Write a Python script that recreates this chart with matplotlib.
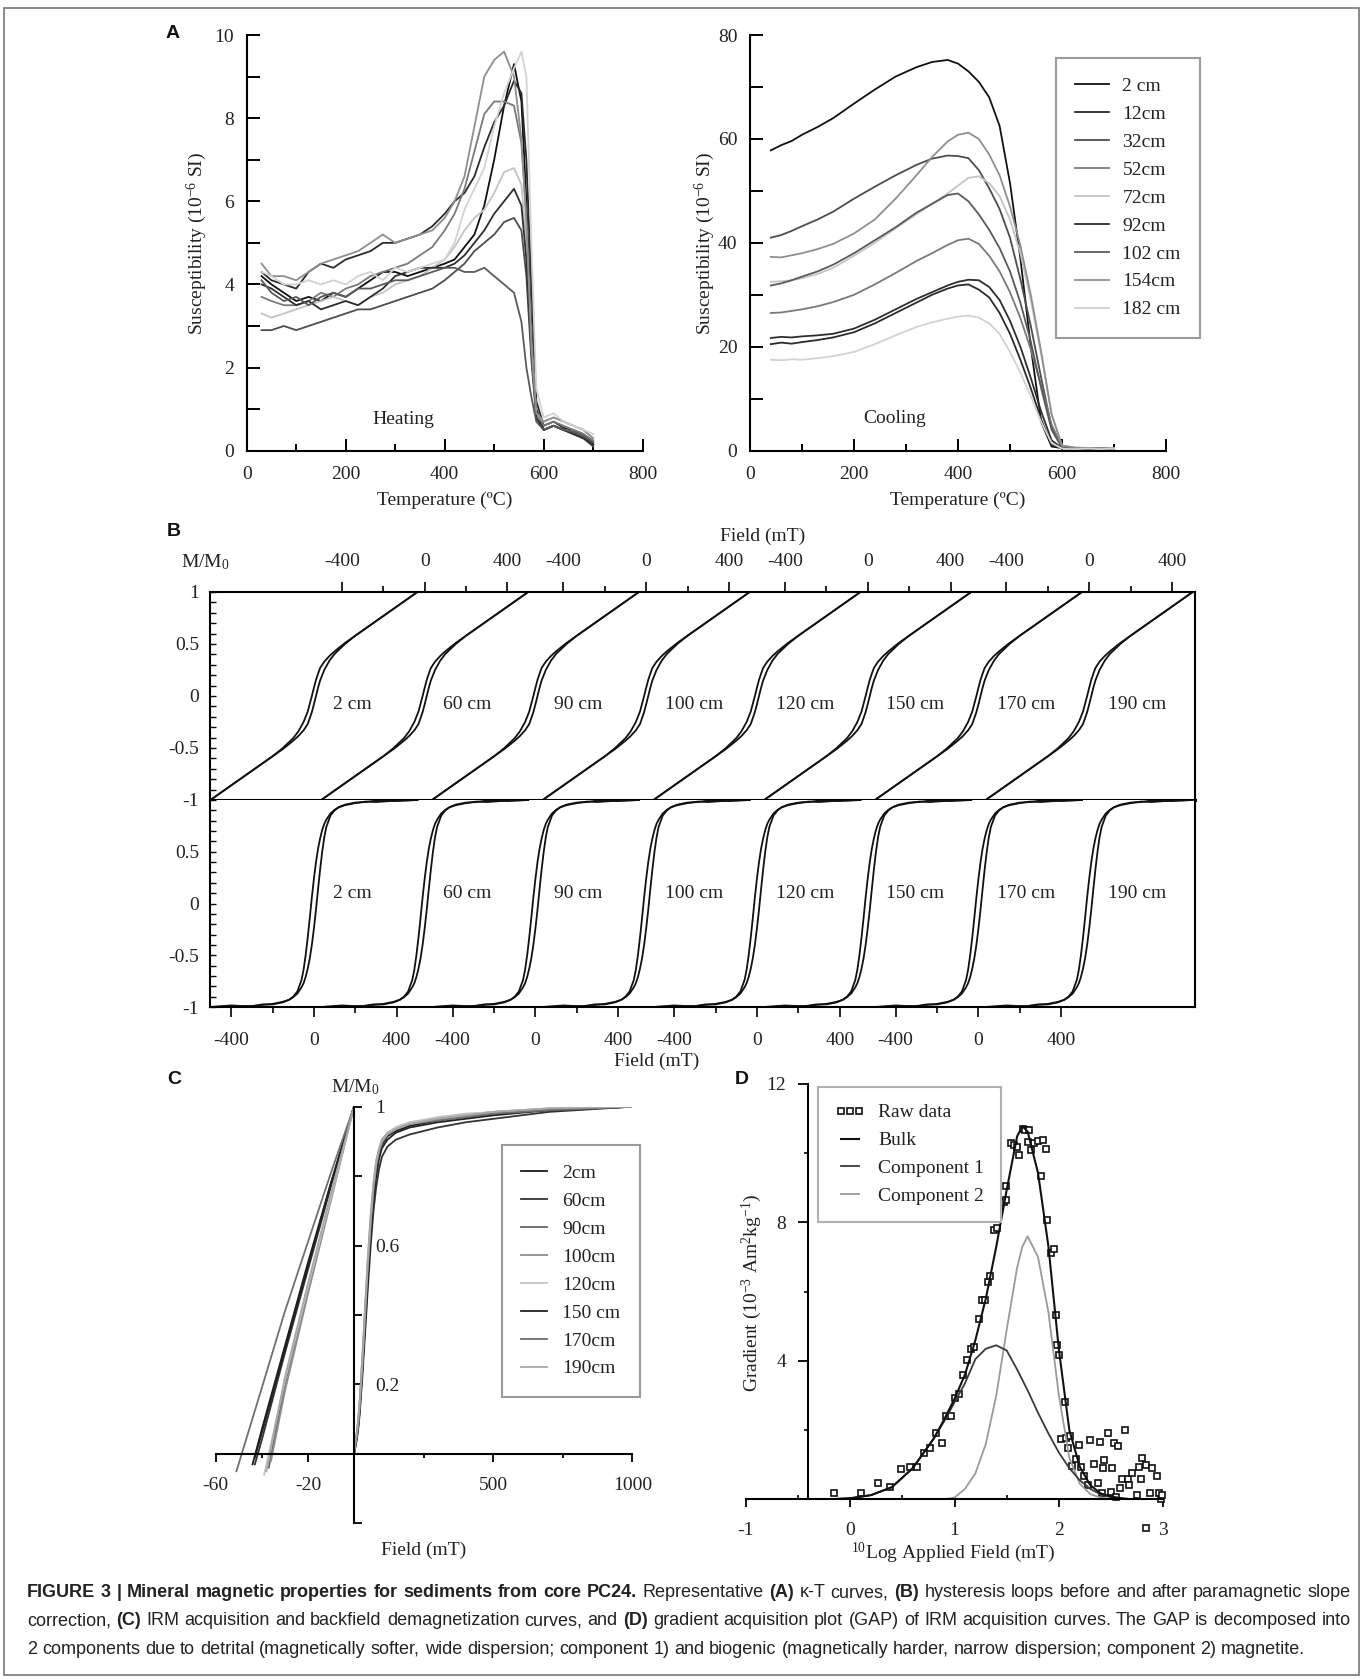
import numpy as np
import matplotlib
matplotlib.use("Agg")
import matplotlib.pyplot as plt
from matplotlib import font_manager
from matplotlib.patches import Rectangle
from matplotlib.ticker import FixedLocator, MultipleLocator, NullFormatter

W, H = 1363, 1679

# ---------------- (A) kappa-T data ----------------
kt_labels = ['2 cm', '12cm', '32cm', '52cm', '72cm', '92cm', '102 cm', '154cm', '182 cm']

heat_T = [30, 50, 75, 100, 125, 150, 175, 200, 225, 250, 275, 300, 325, 350, 375, 400,
          420, 440, 460, 480, 500, 520, 540, 555, 565, 575, 585, 600, 620, 640, 660, 680, 700]
heat_2cm = [4.2, 4.0, 3.8, 3.6, 3.7, 3.6, 3.8, 3.7, 3.9, 4.1, 4.3, 4.3, 4.2, 4.3, 4.4, 4.5,
            4.6, 4.9, 5.2, 5.9, 7.0, 8.3, 9.3, 8.4, 6.0, 3.0, 1.0, 0.5, 0.6, 0.5, 0.45, 0.35, 0.15]
heat_12cm = [4.3, 4.1, 4.0, 3.9, 4.3, 4.5, 4.4, 4.6, 4.7, 4.8, 5.0, 5.0, 5.1, 5.2, 5.4, 5.7,
             6.0, 6.2, 6.6, 7.3, 7.9, 8.3, 8.9, 8.6, 7.0, 4.0, 1.2, 0.6, 0.7, 0.55, 0.5, 0.4, 0.2]
heat_32cm = [2.9, 2.9, 3.0, 2.9, 3.0, 3.1, 3.2, 3.3, 3.4, 3.4, 3.5, 3.6, 3.7, 3.8, 3.9, 4.1,
             4.3, 4.5, 4.8, 5.0, 5.2, 5.5, 5.6, 5.3, 4.2, 2.2, 0.8, 0.5, 0.6, 0.5, 0.4, 0.3, 0.1]
heat_52cm = [3.7, 3.6, 3.5, 3.5, 3.6, 3.8, 3.7, 3.9, 4.0, 4.2, 4.3, 4.4, 4.5, 4.7, 4.9, 5.3,
             5.7, 6.3, 7.2, 8.1, 8.4, 8.4, 8.3, 7.4, 5.6, 2.8, 0.9, 0.6, 0.7, 0.6, 0.5, 0.4, 0.25]
heat_72cm = [3.3, 3.2, 3.3, 3.4, 3.5, 3.6, 3.7, 3.6, 3.5, 3.7, 3.8, 4.0, 4.1, 4.2, 4.4, 4.6,
             4.9, 5.3, 5.6, 5.8, 6.2, 6.7, 6.8, 6.4, 5.0, 2.5, 0.9, 0.7, 0.8, 0.7, 0.6, 0.5, 0.3]
heat_92cm = [4.0, 3.9, 3.7, 3.5, 3.6, 3.4, 3.5, 3.6, 3.5, 3.7, 3.9, 4.2, 4.3, 4.4, 4.4, 4.4,
             4.5, 4.7, 5.0, 5.3, 5.7, 6.0, 6.3, 5.9, 4.6, 2.4, 0.8, 0.5, 0.6, 0.5, 0.4, 0.3, 0.15]
heat_102cm = [4.1, 3.8, 3.6, 3.7, 3.5, 3.7, 3.8, 3.7, 3.9, 3.9, 4.0, 4.1, 4.1, 4.2, 4.3, 4.4,
              4.4, 4.3, 4.3, 4.4, 4.2, 4.0, 3.8, 3.1, 2.0, 1.3, 0.7, 0.5, 0.6, 0.5, 0.45, 0.35, 0.2]
heat_154cm = [4.5, 4.2, 4.2, 4.1, 4.3, 4.5, 4.6, 4.7, 4.8, 5.0, 5.2, 5.0, 5.1, 5.2, 5.3, 5.6,
              6.0, 6.6, 7.8, 9.0, 9.4, 9.6, 9.0, 7.5, 5.5, 2.5, 0.9, 0.7, 0.8, 0.7, 0.6, 0.5, 0.3]
heat_182cm = [4.3, 4.2, 4.0, 4.0, 4.1, 4.0, 4.1, 4.0, 4.2, 4.3, 4.1, 4.4, 4.3, 4.4, 4.5, 4.6,
              5.0, 5.8, 6.3, 6.8, 7.8, 8.6, 9.2, 9.6, 9.0, 5.0, 1.5, 0.8, 0.9, 0.7, 0.6, 0.5, 0.4]

cool_T = [40, 60, 80, 100, 130, 160, 200, 240, 280, 320, 350, 380, 400, 420, 440, 460, 480,
          500, 520, 540, 560, 580, 600, 625, 650, 675, 700]
cool_2cm = [57.8, 58.8, 59.6, 60.8, 62.3, 64.0, 66.8, 69.5, 72.0, 73.8, 74.8, 75.2, 74.5, 73.0,
            71.0, 68.0, 62.5, 51.5, 37.0, 20.0, 5.5, 0.8, 0.5, 0.4, 0.5, 0.3, 0.4]
cool_12cm = [20.5, 20.8, 20.6, 20.9, 21.3, 21.8, 22.8, 24.5, 26.5, 28.5, 30.0, 31.2, 31.8, 32.0,
             31.0, 29.5, 26.5, 22.5, 17.5, 12.0, 6.0, 1.2, 0.5, 0.4, 0.3, 0.4, 0.3]
cool_32cm = [41.0, 41.5, 42.3, 43.2, 44.5, 46.0, 48.5, 50.8, 53.0, 55.0, 56.2, 56.8, 56.7, 56.3,
             54.0, 50.5, 46.5, 41.0, 33.0, 24.0, 14.0, 4.5, 0.8, 0.5, 0.4, 0.5, 0.4]
cool_52cm = [26.5, 26.6, 26.9, 27.2, 27.8, 28.6, 30.0, 32.0, 34.2, 36.5, 38.0, 39.6, 40.5, 40.8,
             39.8, 37.5, 34.5, 30.5, 25.5, 19.5, 12.5, 5.0, 0.8, 0.5, 0.4, 0.5, 0.3]
cool_72cm = [32.5, 32.6, 32.8, 33.2, 34.0, 35.2, 37.5, 40.0, 42.8, 45.5, 47.5, 49.5, 51.0, 52.5,
             52.8, 51.5, 49.0, 44.5, 38.0, 29.0, 18.5, 7.0, 1.0, 0.6, 0.5, 0.4, 0.5]
cool_92cm = [21.7, 21.9, 21.8, 22.0, 22.2, 22.5, 23.5, 25.2, 27.2, 29.2, 30.5, 31.8, 32.5, 32.9,
             32.8, 31.5, 29.0, 25.0, 20.0, 14.0, 7.5, 2.0, 0.5, 0.4, 0.3, 0.4, 0.3]
cool_102cm = [31.8, 32.2, 32.8, 33.5, 34.5, 35.8, 38.0, 40.5, 43.0, 45.8, 47.5, 49.2, 49.5, 48.0,
              45.5, 42.5, 39.0, 34.5, 28.5, 21.0, 12.0, 4.0, 0.6, 0.5, 0.4, 0.4, 0.3]
cool_154cm = [37.3, 37.2, 37.6, 38.0, 38.8, 39.8, 41.8, 44.5, 48.5, 53.0, 56.5, 59.5, 60.8, 61.2,
              60.0, 57.0, 53.0, 47.0, 39.5, 30.0, 19.0, 7.0, 1.0, 0.6, 0.5, 0.5, 0.4]
cool_182cm = [17.5, 17.4, 17.6, 17.5, 17.8, 18.2, 19.0, 20.5, 22.2, 23.8, 24.7, 25.4, 25.8, 26.0,
              25.6, 24.5, 22.5, 19.0, 15.0, 10.5, 5.5, 1.5, 0.4, 0.3, 0.4, 0.3, 0.4]

heat_all = [heat_2cm, heat_12cm, heat_32cm, heat_52cm, heat_72cm, heat_92cm, heat_102cm, heat_154cm, heat_182cm]
cool_all = [cool_2cm, cool_12cm, cool_32cm, cool_52cm, cool_72cm, cool_92cm, cool_102cm, cool_154cm, cool_182cm]
kt_colors = ['#111111', '#2b2b2b', '#4d4d4d', '#7a7a7a', '#c4c4c4', '#2e2e2e', '#5a5a5a', '#8f8f8f', '#d2d2d2']

# ---------------- (B) hysteresis loops ----------------
loop_labels = ['2 cm', '60 cm', '90 cm', '100 cm', '120 cm', '150 cm', '170 cm', '190 cm']
# before slope correction
hys_field_raw = [-500, -450, -400, -350, -300, -250, -200, -150, -100, -75, -50, -30, -10, 0,
                 10, 20, 30, 50, 75, 100, 150, 200, 250, 300, 350, 400, 450, 500]
hys_up_raw = [-1.00, -0.93, -0.86, -0.79, -0.72, -0.65, -0.58, -0.51, -0.43, -0.385, -0.33, -0.27,
              -0.155, -0.08, 0.00, 0.08, 0.15, 0.25, 0.34, 0.405, 0.50, 0.58, 0.65, 0.72, 0.79,
              0.86, 0.93, 1.00]
hys_down_raw = [-1.00, -0.93, -0.86, -0.79, -0.72, -0.65, -0.58, -0.50, -0.405, -0.34, -0.25, -0.15,
                0.00, 0.08, 0.155, 0.215, 0.27, 0.33, 0.385, 0.43, 0.51, 0.58, 0.65, 0.72, 0.79,
                0.86, 0.93, 1.00]
# after slope correction
hys_field_cor = [-500, -400, -300, -250, -200, -150, -120, -100, -80, -60, -50, -40, -30, -20, -10,
                 0, 10, 20, 30, 40, 50, 60, 80, 100, 120, 150, 200, 250, 300, 400, 500]
hys_down_cor = [-1.00, -0.985, -0.995, -0.975, -0.975, -0.955, -0.93, -0.90, -0.85, -0.74, -0.64,
                -0.50, -0.33, -0.14, 0.06, 0.24, 0.40, 0.53, 0.63, 0.71, 0.77, 0.81, 0.87, 0.905,
                0.93, 0.95, 0.97, 0.985, 0.98, 0.995, 1.00]
hys_up_cor = [-1.00, -0.995, -0.99, -0.98, -0.97, -0.95, -0.93, -0.905, -0.87, -0.81, -0.77, -0.71,
              -0.63, -0.53, -0.40, -0.24, -0.06, 0.14, 0.33, 0.50, 0.64, 0.74, 0.85, 0.90, 0.93,
              0.955, 0.975, 0.98, 0.995, 0.99, 1.00]

# ---------------- (C) IRM acquisition / backfield ----------------
irm_labels = ['2cm', '60cm', '90cm', '100cm', '120cm', '150 cm', '170cm', '190cm']
irm_field = [0, 5, 10, 15, 20, 30, 40, 50, 60, 70, 80, 90, 100, 120, 150, 200, 300, 400, 500, 700, 1000]
irm_2cm = [0.00, 0.03, 0.05, 0.08, 0.13, 0.25, 0.39, 0.53, 0.65, 0.75, 0.82, 0.865, 0.89, 0.915, 0.93, 0.945, 0.96, 0.97, 0.98, 0.99, 1.0]
irm_60cm = [0.00, 0.02, 0.04, 0.07, 0.11, 0.22, 0.35, 0.48, 0.60, 0.70, 0.77, 0.82, 0.855, 0.885, 0.905, 0.92, 0.94, 0.955, 0.965, 0.985, 1.0]
irm_90cm = [0.00, 0.03, 0.06, 0.09, 0.14, 0.27, 0.41, 0.55, 0.67, 0.77, 0.84, 0.875, 0.90, 0.92, 0.935, 0.95, 0.965, 0.975, 0.985, 0.99, 1.0]
irm_100cm = [0.00, 0.03, 0.06, 0.10, 0.15, 0.28, 0.43, 0.57, 0.69, 0.78, 0.845, 0.88, 0.905, 0.925, 0.94, 0.955, 0.965, 0.975, 0.985, 0.995, 1.0]
irm_120cm = [0.00, 0.03, 0.06, 0.09, 0.14, 0.27, 0.42, 0.56, 0.68, 0.78, 0.84, 0.88, 0.90, 0.925, 0.94, 0.955, 0.97, 0.98, 0.985, 0.995, 1.0]
irm_150cm = [0.00, 0.02, 0.05, 0.08, 0.12, 0.24, 0.37, 0.51, 0.63, 0.73, 0.80, 0.85, 0.88, 0.905, 0.925, 0.94, 0.955, 0.965, 0.975, 0.99, 1.0]
irm_170cm = [0.00, 0.03, 0.05, 0.08, 0.13, 0.25, 0.40, 0.54, 0.66, 0.76, 0.83, 0.87, 0.895, 0.92, 0.935, 0.95, 0.96, 0.97, 0.98, 0.99, 1.0]
irm_190cm = [0.00, 0.03, 0.06, 0.09, 0.14, 0.26, 0.41, 0.55, 0.67, 0.77, 0.835, 0.875, 0.90, 0.92, 0.935, 0.95, 0.965, 0.975, 0.985, 0.995, 1.0]

bf_field = [[0, -10, -20, -30, -40, -44], [0, -10, -20, -30, -40, -43], [0, -10, -20, -30, -37],
            [0, -10, -20, -30, -36], [0, -10, -20, -30, -39], [0, -10, -20, -30, -40, -43],
            [0, -10, -20, -30, -40, -51], [0, -10, -20, -30, -38]]
bf_value = [[1.0, 0.78, 0.55, 0.31, 0.07, -0.03], [1.0, 0.77, 0.53, 0.29, 0.04, -0.03],
            [1.0, 0.74, 0.47, 0.20, -0.04], [1.0, 0.73, 0.46, 0.18, -0.02],
            [1.0, 0.74, 0.48, 0.21, -0.06], [1.0, 0.78, 0.54, 0.30, 0.06, -0.01],
            [1.0, 0.81, 0.61, 0.41, 0.19, -0.05], [1.0, 0.75, 0.49, 0.22, -0.05]]
irm_all = [irm_2cm, irm_60cm, irm_90cm, irm_100cm, irm_120cm, irm_150cm, irm_170cm, irm_190cm]
irm_colors = ['#1a1a1a', '#333333', '#666666', '#8c8c8c', '#c4c4c4', '#222222', '#707070', '#a8a8a8']

# ---------------- (D) gradient acquisition plot ----------------
raw_x = [-0.15, 0.10, 0.27, 0.38, 0.49, 0.57, 0.64, 0.71, 0.77, 0.82, 0.88, 0.92, 0.97, 1.00, 1.04,
         1.08, 1.12, 1.16, 1.19, 1.23, 1.26, 1.29, 1.32, 1.34, 1.38, 1.41, 1.44, 1.47, 1.49, 1.49,
         1.54, 1.57, 1.60, 1.62, 1.66, 1.68, 1.71, 1.70, 1.73, 1.76, 1.80, 1.85, 1.88, 1.83, 1.89,
         1.92, 1.95, 1.97, 1.98, 2.00, 2.06, 2.02, 2.07, 2.11, 2.09, 2.19, 2.13, 2.16, 2.21, 2.24,
         2.28, 2.30, 2.39, 2.34, 2.37, 2.42, 2.43, 2.47, 2.51, 2.53, 2.57, 2.41, 2.50, 2.55, 2.59,
         2.60, 2.63, 2.66, 2.67, 2.70, 2.75, 2.77, 2.79, 2.80, 2.83, 2.87, 2.89, 2.94, 2.96, 2.98,
         2.99, 2.83]
raw_y = [0.17, 0.17, 0.46, 0.35, 0.87, 0.94, 0.93, 1.33, 1.49, 1.91, 1.64, 2.41, 2.41, 2.92, 3.05,
         3.60, 4.03, 4.34, 4.40, 5.20, 5.76, 5.76, 6.29, 6.44, 7.77, 7.84, 8.46, 8.60, 8.64, 9.06,
         10.30, 10.25, 10.18, 9.95, 10.70, 10.68, 10.66, 10.31, 10.10, 10.30, 10.35, 10.37, 10.12, 9.35, 8.08,
         7.11, 7.23, 5.33, 4.46, 4.17, 2.80, 1.73, 1.76, 1.83, 1.47, 1.57, 0.96, 1.17, 0.93, 0.67,
         0.41, 1.72, 1.67, 1.02, 0.48, 0.90, 1.14, 1.93, 0.90, 1.64, 1.54, 0.19, 0.22, 0.06, 0.32,
         0.58, 2.00, 0.58, 0.41, 0.75, 0.13, 0.93, 0.60, 1.19, 0.99, 0.17, 0.90, 0.67, 0.17, 0.00,
         0.13, -0.82]
gap_x = [-0.4, -0.2, 0.0, 0.2, 0.4, 0.6, 0.8, 0.9, 1.0, 1.1, 1.2, 1.3, 1.4, 1.5, 1.6, 1.65, 1.7,
         1.8, 1.9, 2.0, 2.1, 2.2, 2.3, 2.4, 2.5, 2.6, 2.7]
gap_bulk = [0.0, 0.0, 0.03, 0.12, 0.35, 0.9, 1.75, 2.3, 2.9, 3.6, 4.6, 5.8, 7.3, 8.94, 10.49, 10.78,
            10.63, 9.43, 7.3, 4.32, 2.0, 0.94, 0.41, 0.17, 0.08, 0.03, 0.0]
gap_comp1 = [0.0, 0.0, 0.03, 0.12, 0.35, 0.9, 1.75, 2.25, 2.8, 3.35, 4.05, 4.35, 4.45, 4.3, 3.75,
             3.45, 3.15, 2.5, 1.9, 1.35, 0.9, 0.55, 0.3, 0.14, 0.06, 0.02, 0.0]
gap_comp2 = [np.nan, np.nan, np.nan, np.nan, np.nan, np.nan, np.nan, 0.0, 0.05, 0.3, 0.75, 1.6,
             3.0, 4.9, 6.7, 7.3, 7.6, 7.0, 5.4, 3.0, 1.2, 0.45, 0.15, 0.05, 0.01, 0.0, np.nan]

# ---------------- style ----------------
plt.rcParams['font.family'] = 'Liberation Serif'
plt.rcParams['mathtext.default'] = 'regular'
plt.rcParams['axes.unicode_minus'] = False
TXT = '#222222'
FS = 14
LW = 1.3

fig = plt.figure(figsize=(W / 100, H / 100), dpi=100)


def box(x0, y0, x1, y1):
    return [x0 / W, 1 - y1 / H, (x1 - x0) / W, (y1 - y0) / H]


def to_ax(ax, px, py):
    b = ax.get_position()
    return ((px / W - b.x0) / b.width, (1 - py / H - b.y0) / b.height)


def set_xlabel_at(ax, text, px, py):
    ax.set_xlabel(text, fontsize=FS, color=TXT)
    ax.xaxis.set_label_coords(*to_ax(ax, px, py))
    ax.xaxis.label.set_va('center')


def set_ylabel_at(ax, text, px, py):
    ax.set_ylabel(text, fontsize=FS, color=TXT)
    ax.yaxis.set_label_coords(*to_ax(ax, px, py))
    ax.yaxis.label.set_va('center')


def panel_letter(letter, px, py):
    fig.text(px / W, 1 - py / H, letter, family='Liberation Sans', fontweight='bold',
             fontsize=14, va='center', ha='center', color='#111')


def style_legend(leg):
    leg.get_frame().set_linewidth(1.5)
    for t in leg.get_texts():
        t.set_color(TXT)


def kt_axes(ax, ymax, ymajor, yminor):
    for s in ('top', 'right'):
        ax.spines[s].set_visible(False)
    for s in ('left', 'bottom'):
        ax.spines[s].set_linewidth(1.5)
    ax.set_xlim(0, 800)
    ax.set_ylim(0, ymax)
    ax.xaxis.set_major_locator(MultipleLocator(200))
    ax.xaxis.set_minor_locator(MultipleLocator(100))
    ax.yaxis.set_major_locator(MultipleLocator(ymajor))
    ax.yaxis.set_minor_locator(MultipleLocator(yminor))
    ax.tick_params(axis='x', which='major', direction='in', length=9, width=1.4, pad=11,
                   labelsize=FS, labelcolor=TXT)
    ax.tick_params(axis='x', which='minor', direction='in', length=5, width=1.4)
    ax.tick_params(axis='y', which='both', direction='in', length=9, width=1.4, pad=9,
                   labelsize=FS, labelcolor=TXT)


LEG = dict(borderaxespad=0, fontsize=FS, frameon=True, fancybox=False, framealpha=1,
           labelspacing=0.53, borderpad=1.0)

# ---------------- panel A ----------------
axA1 = fig.add_axes(box(246.7, 35, 642.7, 450.7))
kt_axes(axA1, 10, 2, 1)
for vals, c in zip(heat_all, kt_colors):
    axA1.plot(heat_T, vals, color=c, lw=LW)
axA1.text(316, 0.74, 'Heating', fontsize=FS, color=TXT, ha='center', va='center')
set_xlabel_at(axA1, 'Temperature (ºC)', 444.7, 500)
set_ylabel_at(axA1, 'Susceptibility (10$^{-6}$ SI)', 196.7, 243)

axA2 = fig.add_axes(box(750, 35, 1166, 450.7))
kt_axes(axA2, 80, 20, 10)
kt_lines = []
for vals, c, lab in zip(cool_all, kt_colors, kt_labels):
    ln, = axA2.plot(cool_T, vals, color=c, lw=LW, label=lab)
    kt_lines.append(ln)
axA2.text(279, 6.2, 'Cooling', fontsize=FS, color=TXT, ha='center', va='center')
set_xlabel_at(axA2, 'Temperature (ºC)', 958, 500)
set_ylabel_at(axA2, 'Susceptibility (10$^{-6}$ SI)', 705, 243)
legA = axA2.legend(handles=kt_lines, loc='upper left', bbox_to_anchor=to_ax(axA2, 1056, 58),
                   edgecolor='#9a9a9a', handlelength=1.7, handletextpad=0.72, **LEG)
style_legend(legA)
panel_letter('A', 173, 33)

# ---------------- panel B ----------------
loop_step = 535          # horizontal offset between successive loops (mT)
label_dx = 90            # label offset from loop centre (mT)
hys_panels = [(box(210, 592, 1195, 800), hys_field_raw, hys_up_raw, hys_down_raw, -0.08, (1, 3, 5, 7)),
              (box(210, 800, 1195, 1007), hys_field_cor, hys_up_cor, hys_down_cor, 0.1, (0, 2, 4, 6))]
axB = []
for k, (rect, hf, hu, hd, ylab, tick_loops) in enumerate(hys_panels):
    ax = fig.add_axes(rect)
    axB.append(ax)
    ax.set_xlim(-502, 4256)
    ax.set_ylim(-1, 1)
    for s in ax.spines.values():
        s.set_linewidth(1.5)
    for i, lab in enumerate(loop_labels):
        off = i * loop_step
        ax.plot(np.array(hf) + off, hu, color='#111', lw=LW)
        ax.plot(np.array(hf) + off, hd, color='#111', lw=LW)
        ax.text(off + label_dx, ylab, lab, fontsize=FS, color=TXT, ha='left', va='center')
    centres = [i * loop_step for i in tick_loops]
    ax.xaxis.set_major_locator(FixedLocator([c + r for c in centres for r in (-400, 0, 400)]))
    ax.xaxis.set_minor_locator(FixedLocator([c + r for c in centres for r in (-200, 200)]))
    ax.set_xticklabels(['-400', '0', '400'] * 4)
    ax.yaxis.set_minor_locator(MultipleLocator(0.1))
    ax.tick_params(axis='y', which='both', direction='in', length=4, width=1.0, pad=8,
                   labelsize=FS, labelcolor=TXT)
    ax.tick_params(axis='y', which='both', right=False)
    if k == 0:
        ax.set_yticks([-1, -0.5, 0, 0.5, 1])
        ax.set_yticklabels(['-1', '-0.5', '0', '0.5', '1'])
        ax.xaxis.tick_top()
        ax.tick_params(axis='x', which='both', bottom=False, labelbottom=False)
        ax.tick_params(axis='x', which='major', direction='out', length=7, width=1.2, pad=9,
                       labelsize=FS, labelcolor=TXT)
        ax.tick_params(axis='x', which='minor', direction='out', length=4, width=1.2)
        ax.xaxis.set_label_position('top')
        set_xlabel_at(ax, 'Field (mT)', 763, 536.7)
        ax.spines['bottom'].set_linewidth(2.2)
    else:
        ax.set_yticks([-1, -0.5, 0, 0.5])
        ax.set_yticklabels(['-1', '-0.5', '0', '0.5'])
        ax.spines['top'].set_visible(False)
        ax.tick_params(axis='x', which='both', top=False)
        ax.tick_params(axis='x', which='major', direction='out', length=7, width=1.2, pad=11,
                       labelsize=FS, labelcolor=TXT)
        ax.tick_params(axis='x', which='minor', direction='out', length=4, width=1.2)
        set_xlabel_at(ax, 'Field (mT)', 656.7, 1061.7)
axB[0].text(*to_ax(axB[0], 205, 562), 'M/M$_0$', transform=axB[0].transAxes, fontsize=FS,
            color=TXT, ha='center', va='center')
panel_letter('B', 173.5, 531)

# ---------------- panel C ----------------
C_NEG, C_POS = 138.3 / 60, 278.3 / 1000   # split axis: -60..0 mT stretched, 0..1000 mT compressed


def c_fwd(x):
    x = np.asarray(x, dtype=float)
    return np.where(x < 0, x * C_NEG, x * C_POS)


def c_inv(u):
    u = np.asarray(u, dtype=float)
    return np.where(u < 0, u / C_NEG, u / C_POS)


axC = fig.add_axes(box(215.7, 1106.7, 632.3, 1523.3))
axC.set_xscale('function', functions=(c_fwd, c_inv))
axC.set_xlim(-60, 1000)
axC.set_ylim(-0.2, 1.0)
for s in ('top', 'right'):
    axC.spines[s].set_visible(False)
axC.spines['left'].set_position(('data', 0))
axC.spines['bottom'].set_position(('data', 0))
for s in ('left', 'bottom'):
    axC.spines[s].set_linewidth(1.5)
c_lines = []
for hf, hv, vals, c, lab in zip(bf_field, bf_value, irm_all, irm_colors, irm_labels):
    axC.plot(hf, hv, color=c, lw=LW)
    ln, = axC.plot(irm_field, vals, color=c, lw=LW, label=lab)
    c_lines.append(ln)
axC.xaxis.set_major_locator(FixedLocator([-60, -20, 500, 1000]))
axC.xaxis.set_minor_locator(FixedLocator([-40, 250, 750]))
axC.xaxis.set_minor_formatter(NullFormatter())
axC.set_xticklabels(['-60', '-20', '500', '1000'])
axC.tick_params(axis='x', which='major', direction='out', length=6, width=1.3, pad=11,
                labelsize=FS, labelcolor=TXT)
axC.tick_params(axis='x', which='minor', direction='out', length=3, width=1.3)
axC.yaxis.set_major_locator(FixedLocator([0.2, 0.6, 1.0]))
axC.yaxis.set_minor_locator(FixedLocator([-0.2, 0.4, 0.8]))
axC.set_yticklabels(['0.2', '0.6', '1'])
axC.tick_params(axis='y', which='both', direction='in', length=6, width=1.3, pad=-15,
                labelsize=FS, labelcolor=TXT)
for t in axC.get_yticklabels():
    t.set_horizontalalignment('left')
axC.text(*to_ax(axC, 355, 1086.7), 'M/M$_0$', transform=axC.transAxes, fontsize=FS,
         color=TXT, ha='center', va='center')
set_xlabel_at(axC, 'Field (mT)', 423.3, 1550)
legC = axC.legend(handles=c_lines, loc='upper left', bbox_to_anchor=to_ax(axC, 501.7, 1145),
                  edgecolor='#9a9a9a', handlelength=1.35, handletextpad=0.75, **LEG)
style_legend(legC)
panel_letter('C', 174, 1080)

# ---------------- panel D ----------------
axD = fig.add_axes(box(745.7, 1084, 1163.3, 1499.3))
axD.set_xlim(-1, 3)
axD.set_ylim(0, 12)
for s in ('top', 'right'):
    axD.spines[s].set_visible(False)
axD.spines['left'].set_position(('data', -0.4))
for s in ('left', 'bottom'):
    axD.spines[s].set_linewidth(1.5)
raw_ln, = axD.plot(raw_x, raw_y, ls='none', marker='s', ms=5, mfc='white', mec='#111',
                   mew=1.2, clip_on=False, label='Raw data')
c2_ln, = axD.plot(gap_x, gap_comp2, color='#9a9a9a', lw=LW, label='Component 2')
c1_ln, = axD.plot(gap_x, gap_comp1, color='#3a3a3a', lw=LW, label='Component 1')
bulk_ln, = axD.plot(gap_x, gap_bulk, color='#111', lw=1.5, label='Bulk')
axD.xaxis.set_major_locator(MultipleLocator(1))
axD.xaxis.set_minor_locator(FixedLocator([-0.5, 0.5, 1.5, 2.5]))
axD.yaxis.set_major_locator(FixedLocator([4, 8, 12]))
axD.yaxis.set_minor_locator(FixedLocator([2, 6, 10]))
axD.tick_params(axis='x', which='major', direction='out', length=6, width=1.3, pad=10,
                labelsize=FS, labelcolor=TXT)
axD.tick_params(axis='x', which='minor', direction='in', length=3, width=1.2)
axD.tick_params(axis='y', which='major', direction='out', length=7, width=1.3, pad=9,
                labelsize=FS, labelcolor=TXT)
axD.tick_params(axis='y', which='minor', direction='out', length=3, width=1.2)
set_xlabel_at(axD, '$^{10}$Log Applied Field (mT)', 953.3, 1553.3)
set_ylabel_at(axD, 'Gradient (10$^{-3}$ Am$^{2}$kg$^{-1}$)', 751.7, 1293.3)
legD = axD.legend(handles=[raw_ln, bulk_ln, c1_ln, c2_ln], loc='upper left',
                  bbox_to_anchor=to_ax(axD, 818.3, 1087.3), edgecolor='#b0b0b0',
                  handlelength=1.55, handletextpad=0.69, numpoints=3, markerscale=0.8,
                  **{**LEG, 'borderpad': 0.85})
style_legend(legD)
panel_letter('D', 741.7, 1080)

# ---------------- caption (justified, mixed weights) ----------------
avail = {f.name for f in font_manager.fontManager.ttflist}
cap_family = 'Liberation Sans Narrow' if 'Liberation Sans Narrow' in avail else 'Liberation Sans'
caption_lines = [
    [("FIGURE 3 | Mineral magnetic properties for sediments from core PC24.", 'bold'),
     ("Representative", 'normal'), ("(A)", 'bold'), ("κ-T curves,", 'normal'), ("(B)", 'bold'),
     ("hysteresis loops before and after paramagnetic slope", 'normal')],
    [("correction,", 'normal'), ("(C)", 'bold'),
     ("IRM acquisition and backfield demagnetization curves, and", 'normal'), ("(D)", 'bold'),
     ("gradient acquisition plot (GAP) of IRM acquisition curves. The GAP is decomposed into", 'normal')],
    [("2 components due to detrital (magnetically softer, wide dispersion; component 1) and biogenic "
      "(magnetically harder, narrow dispersion; component 2) magnetite.", 'normal')],
]
cap_baseline = [1597, 1625, 1654]
cap_x0, cap_x1 = 27, 1351
renderer = fig.canvas.get_renderer()


def text_width(s, fs, wt):
    t = fig.text(0, 0, s, fontsize=fs, fontweight=wt, family=cap_family)
    w = t.get_window_extent(renderer).width
    t.remove()
    return w


def line_words(segs):
    return [(w, wt) for s, wt in segs for w in s.split()]


fs0 = 14.0
space0 = text_width('x x', fs0, 'normal') - text_width('xx', fs0, 'normal')
natural = []
for segs in caption_lines:
    words = line_words(segs)
    natural.append(sum(text_width(w, fs0, wt) for w, wt in words) + space0 * (len(words) - 1))
cap_fs = fs0 * (cap_x1 - cap_x0) / max(natural[0], natural[1])
space = space0 * cap_fs / fs0
for li, (py, segs) in enumerate(zip(cap_baseline, caption_lines)):
    words = line_words(segs)
    widths = [text_width(w, cap_fs, wt) for w, wt in words]
    if li < 2 and len(words) > 1:
        gap = (cap_x1 - cap_x0 - sum(widths)) / (len(words) - 1)
    else:
        gap = space
    x = cap_x0
    for (w, wt), wd in zip(words, widths):
        fig.text(x / W, 1 - py / H, w, fontsize=cap_fs, fontweight=wt, family=cap_family,
                 va='baseline', ha='left', color='#222')
        x += wd + gap

fig.add_artist(Rectangle((4 / W, 1 - 1675 / H), 1355 / W, 1667 / H, transform=fig.transFigure,
                         fill=False, edgecolor='#777777', lw=1.2))

fig.savefig('out.png', dpi=100)
